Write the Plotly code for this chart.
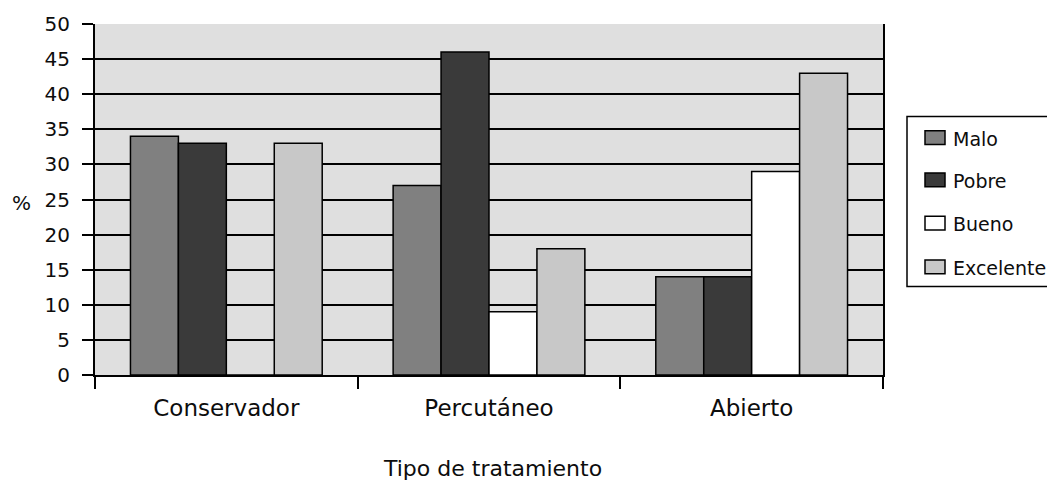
import plotly.graph_objects as go

# Outcome by treatment type (%)
categories = ["Conservador", "Percutáneo", "Abierto"]
series_names = ["Malo", "Pobre", "Bueno", "Excelente"]
malo = [34, 27, 14]
pobre = [33, 46, 14]
bueno = [0, 9, 29]
excelente = [33, 18, 43]
y_ticks = [0, 5, 10, 15, 20, 25, 30, 35, 40, 45, 50]

series_values = [malo, pobre, bueno, excelente]
colors = ["#808080", "#3a3a3a", "#ffffff", "#c8c8c8"]

W, H = 1047, 483
L, R, T, B = 95, 883, 18, 375
FONT = "DejaVu Sans"
INK = "#0d0d0d"


def px(x):
    return (x - L) / (R - L)


def py(y):
    return (B - y) / (B - T)


fig = go.Figure()
for name, vals, col in zip(series_names, series_values, colors):
    fig.add_trace(go.Bar(
        x=categories, y=vals, name=name,
        marker=dict(color=col, line=dict(color="#000000", width=1.5)),
        showlegend=False,
    ))

shapes = []
annotations = []

# legend frame, running past the right edge of the figure
shapes.append(dict(type="rect", xref="paper", yref="paper",
                   x0=px(907), x1=px(1070), y0=py(285), y1=py(112),
                   line=dict(color="#000000", width=1.5), fillcolor="#ffffff",
                   layer="above"))
legend_rows = [133.5, 176.5, 220.5, 265]
for name, col, yc in zip(series_names, colors, legend_rows):
    shapes.append(dict(type="rect", xref="paper", yref="paper",
                       x0=px(925), x1=px(945), y0=py(yc + 7), y1=py(yc - 7),
                       line=dict(color="#000000", width=1.5), fillcolor=col,
                       layer="above"))
    annotations.append(dict(text=name, xref="paper", yref="paper",
                            x=px(951), y=py(yc + 1), xanchor="left", yanchor="middle",
                            showarrow=False, font=dict(family=FONT, size=19, color=INK)))

annotations.append(dict(text="%", xref="paper", yref="paper",
                        x=px(21), y=py(200), xanchor="center", yanchor="middle",
                        showarrow=False, font=dict(family=FONT, size=20, color=INK)))
annotations.append(dict(text="Tipo de tratamiento", xref="paper", yref="paper",
                        x=px(492), y=py(470), xanchor="center", yanchor="middle",
                        showarrow=False, font=dict(family=FONT, size=22, color=INK)))

fig.update_layout(
    width=W, height=H,
    margin=dict(l=L, r=W - R, t=T, b=H - B, pad=0),
    paper_bgcolor="#ffffff",
    plot_bgcolor="#dfdfdf",
    barmode="group",
    bargap=0.27,
    bargroupgap=0,
    shapes=shapes,
    annotations=annotations,
    font=dict(family=FONT, color=INK),
)

fig.update_xaxes(
    type="category",
    showline=True, linecolor="#000000", linewidth=2,
    mirror=False,
    ticks="outside", tickson="boundaries", ticklen=12, tickwidth=2, tickcolor="#000000",
    tickfont=dict(family=FONT, size=23, color=INK),
    ticklabelstandoff=11,
    showgrid=False,
)
fig.update_yaxes(
    range=[0, 50],
    tickvals=y_ticks,
    showline=True, linecolor="#000000", linewidth=2, mirror=True,
    ticks="outside", ticklen=11, tickwidth=2, tickcolor="#000000",
    tickfont=dict(family=FONT, size=20, color=INK),
    ticklabelstandoff=8,
    showgrid=True, gridcolor="#000000", gridwidth=1.6,
    zeroline=False,
)

fig.write_html("out.html")
